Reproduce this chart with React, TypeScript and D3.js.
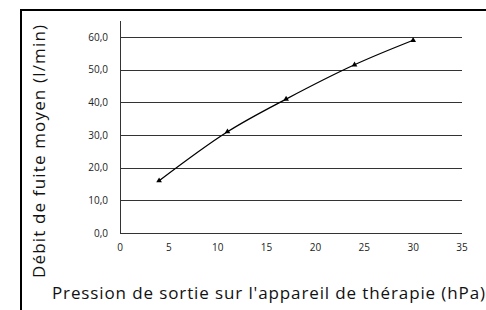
import React from 'react'
import * as d3 from 'd3'

// pression (hPa) vs débit de fuite moyen (l/min)
const pressures = [4, 11, 17, 24, 30]
const leakFlow = [16.0, 31.0, 41.0, 51.5, 59.0]
const xTicks = [0, 5, 10, 15, 20, 25, 30, 35]
const yTicks = [0, 10, 20, 30, 40, 50, 60]

const xTitle = "Pression de sortie sur l'appareil de thérapie (hPa)"
const yTitle = 'Débit de fuite moyen (l/min)'

const W = 486
const H = 310
const font = '"Open Sans", "Noto Sans", sans-serif'

export default function App() {
    const x = d3.scaleLinear().domain([0, 35]).range([120, 462])
    const y = d3.scaleLinear().domain([0, 60]).range([233, 37])

    const pts: [number, number][] = pressures.map((p, i) => [x(p), y(leakFlow[i])])
    const line = d3.line().curve(d3.curveCatmullRom.alpha(0.5))
    const tri = d3.symbol().type(d3.symbolTriangle).size(14)

    return (
        <div style={{ position: 'fixed', left: 0, top: 0 }}>
            <svg width={W} height={H} style={{ display: 'block', background: '#fff' }}>
                <rect x={21} y={10} width={520} height={330} fill="none" stroke="#000" strokeWidth={2} />

                {yTicks.map(t => (
                    <g key={'y' + t}>
                        <line x1={120} x2={462} y1={Math.round(y(t)) + 0.5} y2={Math.round(y(t)) + 0.5}
                            stroke="#333" strokeWidth={1} />
                        <text x={108} y={y(t)} dy="0.35em" textAnchor="end" fontSize={10} fill="#222" fontFamily={font}>
                            {d3.format('.1f')(t).replace('.', ',')}
                        </text>
                    </g>
                ))}
                <line x1={120.5} x2={120.5} y1={21} y2={233} stroke="#333" strokeWidth={1} />

                {xTicks.map(t => (
                    <text key={'x' + t} x={x(t)} y={251} textAnchor="middle" fontSize={10} fill="#222" fontFamily={font}>
                        {t}
                    </text>
                ))}

                <path d={line(pts) || ''} fill="none" stroke="#000" strokeWidth={1.3} />
                {pts.map((p, i) => (
                    <path key={'m' + i} d={tri() || ''} transform={`translate(${p[0]},${p[1]})`} fill="#000" />
                ))}

                <text x={52} y={299} fontSize={17} fill="#111" fontFamily={font}
                    textLength={433} lengthAdjust="spacing">{xTitle}</text>
                <text transform="translate(45,151.5) rotate(-90)" textAnchor="middle" fontSize={17} fill="#111"
                    fontFamily={font} textLength={253} lengthAdjust="spacing">
                    {yTitle}
                </text>
            </svg>
        </div>
    )
}
